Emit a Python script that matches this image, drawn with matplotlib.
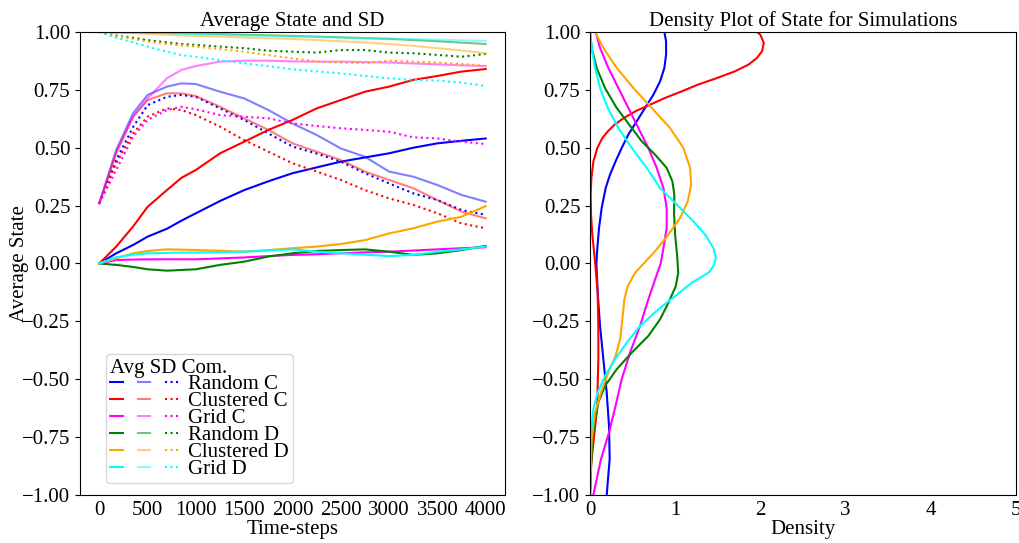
import matplotlib
matplotlib.use('Agg')
import matplotlib.pyplot as plt
from matplotlib.legend_handler import HandlerTuple

plt.rcParams['font.family'] = ['Liberation Serif', 'DejaVu Serif']
plt.rcParams['font.size'] = 15

# time-steps at which the averaged runs are sampled
steps = [0, 175, 350, 500, 700, 850, 1000, 1250, 1500, 1750, 2000,
         2250, 2500, 2750, 3000, 3250, 3500, 3750, 4000]

names = ['Random C', 'Clustered C', 'Grid C', 'Random D', 'Clustered D', 'Grid D']
colours = ['blue', 'red', 'magenta', 'green', 'orange', 'cyan']

avg_state = [
  [0, 0.044, 0.08, 0.116, 0.15, 0.185, 0.217, 0.27, 0.317, 0.355, 0.39,
   0.415, 0.44, 0.458, 0.476, 0.50, 0.519, 0.53, 0.54],
  [0, 0.073, 0.16, 0.245, 0.317, 0.37, 0.404, 0.476, 0.526, 0.577, 0.62,
   0.67, 0.706, 0.742, 0.764, 0.793, 0.81, 0.829, 0.84],
  [0, 0.015, 0.017, 0.018, 0.018, 0.018, 0.018, 0.022, 0.026, 0.032, 0.037,
   0.04, 0.044, 0.048, 0.051, 0.056, 0.061, 0.066, 0.07],
  [0, -0.006, -0.015, -0.025, -0.031, -0.028, -0.025, -0.006, 0.008, 0.03, 0.044,
   0.054, 0.058, 0.061, 0.051, 0.037, 0.044, 0.058, 0.076],
  [0, 0.022, 0.044, 0.054, 0.061, 0.06, 0.058, 0.055, 0.051, 0.058, 0.066,
   0.073, 0.084, 0.101, 0.13, 0.152, 0.181, 0.202, 0.248],
  [0, 0.027, 0.038, 0.044, 0.046, 0.047, 0.047, 0.049, 0.051, 0.056, 0.061,
   0.051, 0.044, 0.038, 0.032, 0.037, 0.051, 0.061, 0.073],
]

sd_state = [
  [0.26, 0.49, 0.649, 0.728, 0.764, 0.778, 0.775, 0.742, 0.713, 0.663, 0.605,
   0.555, 0.497, 0.461, 0.397, 0.375, 0.339, 0.296, 0.267],
  [0.26, 0.476, 0.634, 0.706, 0.735, 0.735, 0.723, 0.677, 0.627, 0.577, 0.519,
   0.483, 0.447, 0.397, 0.361, 0.325, 0.274, 0.224, 0.195],
  [0.26, 0.483, 0.634, 0.713, 0.8, 0.836, 0.853, 0.872, 0.876, 0.876, 0.873,
   0.872, 0.872, 0.87, 0.868, 0.864, 0.86, 0.856, 0.853],
  [1.0, 0.999, 0.998, 0.997, 0.996, 0.995, 0.994, 0.991, 0.988, 0.986, 0.983,
   0.98, 0.977, 0.973, 0.97, 0.965, 0.96, 0.954, 0.948],
  [1.0, 0.998, 0.995, 0.992, 0.988, 0.985, 0.983, 0.98, 0.976, 0.973, 0.97,
   0.965, 0.96, 0.955, 0.948, 0.94, 0.93, 0.92, 0.908],
  [1.0, 0.999, 0.998, 0.997, 0.995, 0.992, 0.99, 0.988, 0.985, 0.983, 0.98,
   0.978, 0.976, 0.974, 0.972, 0.969, 0.967, 0.964, 0.962],
]

com_state = [
  [0.26, 0.447, 0.59, 0.684, 0.72, 0.728, 0.72, 0.67, 0.62, 0.562, 0.505,
   0.475, 0.44, 0.39, 0.346, 0.303, 0.274, 0.231, 0.21],
  [0.26, 0.433, 0.562, 0.634, 0.67, 0.663, 0.641, 0.591, 0.533, 0.483, 0.433,
   0.397, 0.361, 0.317, 0.281, 0.253, 0.217, 0.173, 0.152],
  [0.26, 0.404, 0.548, 0.62, 0.663, 0.677, 0.666, 0.641, 0.634, 0.627, 0.605,
   0.594, 0.584, 0.577, 0.569, 0.545, 0.54, 0.526, 0.516],
  [1.0, 0.985, 0.975, 0.965, 0.955, 0.948, 0.944, 0.937, 0.93, 0.919, 0.915,
   0.911, 0.922, 0.922, 0.911, 0.908, 0.901, 0.893, 0.905],
  [1.0, 0.985, 0.97, 0.958, 0.948, 0.942, 0.937, 0.926, 0.915, 0.9, 0.886,
   0.872, 0.868, 0.865, 0.876, 0.872, 0.868, 0.862, 0.853],
  [1.0, 0.975, 0.955, 0.937, 0.915, 0.9, 0.893, 0.878, 0.865, 0.852, 0.839,
   0.83, 0.821, 0.81, 0.8, 0.793, 0.79, 0.781, 0.767],
]

# density of final states: state levels and density at each, per simulation type
dens_state = [
  [1.0, 0.96, 0.902, 0.845, 0.787, 0.729, 0.672, 0.614, 0.557, 0.499, 0.441,
   0.384, 0.326, 0.24, 0.153, 0.067, 0.0, -0.126, -0.27, -0.414, -0.557,
   -0.701, -0.845, -1.0],
  [1.0, 0.988, 0.953, 0.917, 0.888, 0.859, 0.83, 0.801, 0.773, 0.744, 0.715,
   0.686, 0.657, 0.629, 0.6, 0.571, 0.542, 0.499, 0.441, 0.369, 0.297, 0.211,
   0.125, 0.009, -0.126, -0.27, -0.414, -0.529, -0.615, -0.672, -0.773,
   -0.874, -1.0],
  [1.0, 0.931, 0.845, 0.758, 0.672, 0.585, 0.499, 0.413, 0.326, 0.24, 0.153,
   0.067, 0.0, -0.069, -0.155, -0.27, -0.385, -0.5, -0.615, -0.73, -0.845,
   -1.0],
  [1.0, 0.931, 0.845, 0.758, 0.672, 0.585, 0.528, 0.47, 0.413, 0.355, 0.297,
   0.211, 0.125, 0.038, -0.04, -0.098, -0.17, -0.241, -0.313, -0.385, -0.457,
   -0.529, -0.6, -0.701, -0.816, -1.0],
  [1.0, 0.931, 0.845, 0.758, 0.672, 0.585, 0.499, 0.413, 0.341, 0.269, 0.197,
   0.125, 0.053, 0.0, -0.04, -0.098, -0.155, -0.241, -0.328, -0.4, -0.471,
   -0.557, -0.644, -0.759, -0.874, -1.0],
  [1.0, 0.931, 0.845, 0.758, 0.672, 0.585, 0.499, 0.413, 0.326, 0.24, 0.182,
   0.125, 0.067, 0.024, -0.012, -0.04, -0.083, -0.141, -0.198, -0.27, -0.342,
   -0.414, -0.486, -0.557, -0.629, -0.73, -1.0],
]
dens_value = [
  [0.873, 0.893, 0.893, 0.873, 0.823, 0.744, 0.646, 0.548, 0.45, 0.372, 0.30,
   0.235, 0.184, 0.137, 0.106, 0.086, 0.075, 0.09, 0.118, 0.157, 0.196,
   0.223, 0.231, 0.196],
  [1.96, 2.0, 2.04, 2.02, 1.96, 1.86, 1.70, 1.49, 1.27, 1.08, 0.88,
   0.705, 0.53, 0.40, 0.29, 0.21, 0.145, 0.086, 0.04, 0.016, 0.008, 0.012,
   0.027, 0.059, 0.09, 0.098, 0.098, 0.09, 0.086, 0.07, 0.04,
   0.012, 0.0],
  [0.067, 0.118, 0.215, 0.333, 0.45, 0.568, 0.685, 0.783, 0.862, 0.90, 0.90,
   0.862, 0.83, 0.764, 0.685, 0.587, 0.47, 0.372, 0.30, 0.223, 0.129,
   0.039],
  [0.0, 0.02, 0.078, 0.176, 0.313, 0.49, 0.607, 0.764, 0.90, 0.967, 0.99,
   0.987, 0.999, 1.022, 1.036, 1.007, 0.92, 0.823, 0.685, 0.49, 0.313,
   0.176, 0.098, 0.047, 0.02, 0.0],
  [0.059, 0.157, 0.313, 0.509, 0.725, 0.94, 1.097, 1.175, 1.187, 1.148, 1.058,
   0.92, 0.764, 0.63, 0.529, 0.443, 0.403, 0.38, 0.353, 0.30, 0.215,
   0.129, 0.059, 0.02, 0.008, 0.0],
  [0.0, 0.02, 0.059, 0.118, 0.208, 0.333, 0.49, 0.666, 0.823, 1.058, 1.214,
   1.351, 1.449, 1.477, 1.449, 1.39, 1.195, 0.999, 0.803, 0.587, 0.431,
   0.294, 0.176, 0.09, 0.039, 0.012, 0.0],
]

y_ticks = [-1.0, -0.75, -0.5, -0.25, 0.0, 0.25, 0.5, 0.75, 1.0]


def main():
  fig = plt.figure(figsize=(10.19, 5.43), dpi=100)
  ax1 = fig.add_axes([0.0785, 0.0884, 0.4171, 0.8527])
  ax2 = fig.add_axes([0.579, 0.0884, 0.418, 0.8527])

  handles = []
  for i, c in enumerate(colours):
    l_avg, = ax1.plot(steps, avg_state[i], color=c, lw=1.5)
    l_sd, = ax1.plot(steps, sd_state[i], color=c, lw=1.5, alpha=0.5)
    l_com, = ax1.plot(steps, com_state[i], color=c, lw=1.5, ls=':')
    handles.append((l_avg, l_sd, l_com))

  ax1.set_ylim(-1, 1)
  ax1.set_yticks(y_ticks)
  ax1.set_xticks(range(0, 4001, 500))
  ax1.tick_params(axis='x', length=0, pad=4)
  ax1.set_title('Average State and SD', fontsize=15, pad=4)
  ax1.set_xlabel('Time-steps', labelpad=0)
  ax1.set_ylabel('Average State')
  ax1.yaxis.set_label_coords(-0.12, 0.5)

  leg = ax1.legend(handles, names, title='Avg SD Com.', alignment='left',
                   handler_map={tuple: HandlerTuple(ndivide=None, pad=0.7)},
                   handlelength=3.25, handletextpad=0.5, labelspacing=-0.13,
                   borderpad=0.2, borderaxespad=0, loc='lower left',
                   bbox_to_anchor=(0.061, 0.026), fontsize=15,
                   title_fontsize=15)
  leg.get_frame().set_edgecolor('#cccccc')

  for i, c in enumerate(colours):
    ax2.plot(dens_value[i], dens_state[i], color=c, lw=1.5)

  ax2.set_xlim(0, 5)
  ax2.set_ylim(-1, 1)
  ax2.set_yticks(y_ticks)
  ax2.tick_params(axis='x', length=0, pad=4)
  ax2.set_title('Density Plot of State for Simulations', fontsize=15, pad=4)
  ax2.set_xlabel('Density', labelpad=0)

  fig.savefig('out.png', dpi=100)


if __name__ == '__main__':
  main()
